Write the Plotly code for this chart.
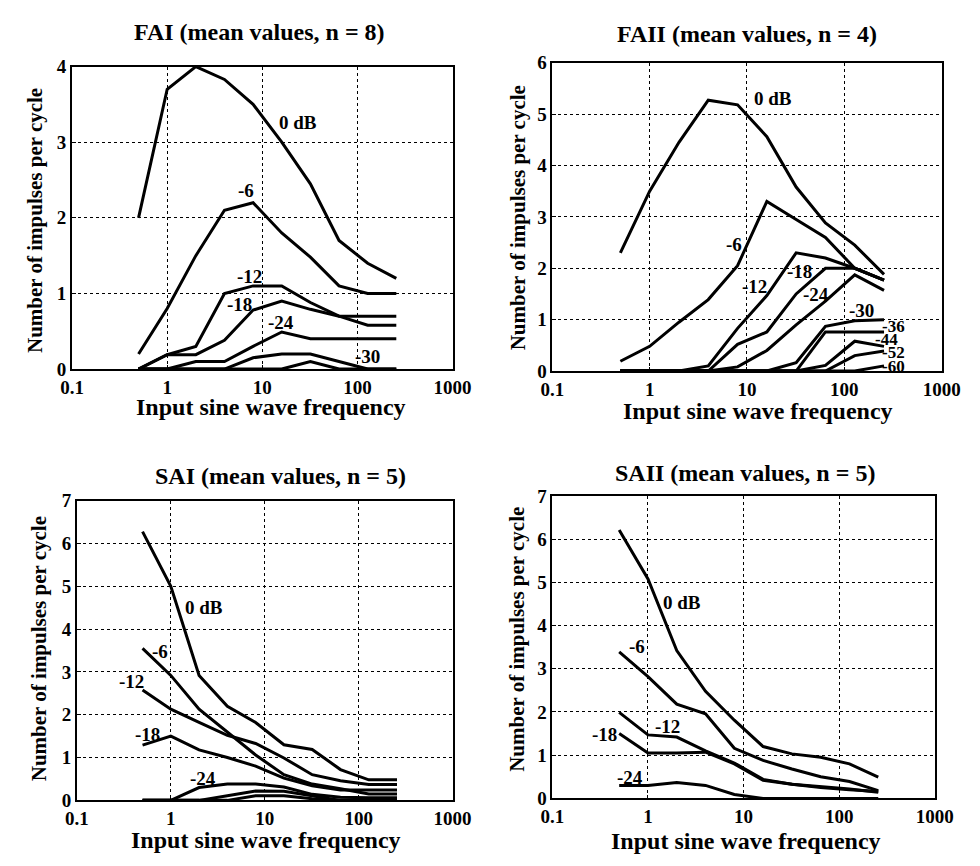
import math
import plotly.graph_objects as go

# Stimulus frequencies (Hz), one octave apart
freq = [0.5, 1, 2, 4, 8, 16, 32, 64, 128, 256]

x_tickvals = [0.1, 1, 10, 100, 1000]
x_ticktext = ["0.1", "1", "10", "100", "1000"]

# FAI afferents, impulses per cycle at each attenuation
fai_0 = [2.0, 3.7, 4.0, 3.83, 3.5, 3.0, 2.45, 1.7, 1.4, 1.2]
fai_6 = [0.2, 0.8, 1.5, 2.1, 2.2, 1.8, 1.48, 1.1, 1.0, 1.0]
fai_12 = [0, 0.19, 0.3, 1.0, 1.1, 1.1, 0.88, 0.7, 0.58, 0.58]
fai_18 = [0, 0.19, 0.19, 0.38, 0.78, 0.9, 0.79, 0.7, 0.7, 0.7]
fai_24 = [0, 0, 0.1, 0.1, 0.3, 0.49, 0.4, 0.4, 0.4, 0.4]
fai_30 = [0, 0, 0, 0, 0.15, 0.2, 0.2, 0.1, 0, 0]
fai_36 = [0, 0, 0, 0, 0, 0, 0.1, 0, 0, 0]

# FAII afferents
faii_0 = [2.3, 3.5, 4.45, 5.27, 5.18, 4.56, 3.58, 2.88, 2.45, 1.88]
faii_6 = [0.19, 0.48, 0.95, 1.39, 2.05, 3.3, 2.95, 2.6, 2.0, 1.77]
faii_12 = [0, 0, 0, 0.1, 0.83, 1.47, 2.3, 2.2, 2.0, 1.77]
faii_18 = [0, 0, 0, 0, 0.52, 0.76, 1.5, 2.0, 2.0, 1.77]
faii_24 = [0, 0, 0, 0, 0.08, 0.4, 0.9, 1.36, 1.87, 1.57]
faii_30 = [0, 0, 0, 0, 0, 0, 0.16, 0.87, 0.98, 1.0]
faii_36 = [0, 0, 0, 0, 0, 0, 0, 0.76, 0.76, 0.76]
faii_44 = [0, 0, 0, 0, 0, 0, 0, 0.11, 0.58, 0.48]
faii_52 = [0, 0, 0, 0, 0, 0, 0, 0, 0.3, 0.39]
faii_60 = [0, 0, 0, 0, 0, 0, 0, 0, 0, 0.1]

# SAI afferents
sai_0 = [6.28, 5.0, 2.92, 2.2, 1.82, 1.3, 1.19, 0.72, 0.48, 0.48]
sai_6 = [3.55, 2.92, 2.13, 1.59, 1.06, 0.6, 0.38, 0.27, 0.15, 0.15]
sai_12 = [2.58, 2.13, 1.82, 1.52, 1.33, 0.99, 0.6, 0.46, 0.37, 0.37]
sai_18 = [1.29, 1.5, 1.18, 1.0, 0.8, 0.52, 0.34, 0.24, 0.24, 0.24]
sai_24 = [0, 0, 0.3, 0.38, 0.38, 0.31, 0.14, 0.07, 0.06, 0.06]
sai_30 = [0, 0, 0, 0.11, 0.22, 0.21, 0.11, 0, 0, 0]
sai_36 = [0, 0, 0, 0, 0.11, 0.11, 0.04, 0, 0, 0]

# SAII afferents
saii_0 = [6.21, 5.08, 3.42, 2.48, 1.81, 1.2, 1.03, 0.95, 0.8, 0.49]
saii_6 = [3.39, 2.82, 2.18, 1.96, 1.16, 0.88, 0.68, 0.5, 0.39, 0.18]
saii_12 = [1.99, 1.47, 1.42, 1.1, 0.82, 0.44, 0.33, 0.27, 0.22, 0.14]
saii_18 = [1.5, 1.05, 1.05, 1.07, 0.8, 0.42, 0.33, 0.25, 0.2, 0.16]
saii_24 = [0.3, 0.3, 0.37, 0.3, 0.09, 0, 0, 0, 0, 0]

FONT = "Liberation Serif, Times New Roman, serif"

# Label tuples: text, frequency, value, font size
panels = [
    dict(title="FAI (mean values, n = 8)", ymax=4,
         series=[fai_0, fai_6, fai_12, fai_18, fai_24, fai_30, fai_36],
         labels=[("0 dB", 23.5, 3.26, 19), ("-6", 6.8, 2.36, 19), ("-12", 7.3, 1.22, 19),
                 ("-18", 5.8, 0.86, 19), ("-24", 15.9, 0.62, 19), ("-30", 126, 0.16, 19)],
         xd=[62, 455], yd=[58, 368], ttl=(256, 23), xt=(267, 407), yt=(24, 216)),
    dict(title="FAII (mean values, n = 4)", ymax=6,
         series=[faii_0, faii_6, faii_12, faii_18, faii_24, faii_30,
                 faii_36, faii_44, faii_52, faii_60],
         labels=[("0 dB", 18.5, 5.3, 19), ("-6", 7.3, 2.47, 19), ("-12", 12, 1.65, 19),
                 ("-18", 34.4, 1.94, 19), ("-24", 50.8, 1.48, 19), ("-30", 149, 1.18, 19),
                 ("-36", 318, 0.87, 17), ("-44", 272, 0.61, 17), ("-52", 318, 0.36, 17),
                 ("-60", 318, 0.08, 17)],
         xd=[558, 960], yd=[54, 370], ttl=(759, 25), xt=(770, 411), yt=(522, 213)),
    dict(title="SAI (mean values, n = 5)", ymax=7,
         series=[sai_0, sai_6, sai_12, sai_18, sai_24, sai_30, sai_36],
         labels=[("0 dB", 2.24, 4.51, 19), ("-6", 0.77, 3.47, 19), ("-12", 0.38, 2.78, 19),
                 ("-18", 0.56, 1.55, 19), ("-24", 2.19, 0.52, 19)],
         xd=[67, 455], yd=[503, 810], ttl=(277, 478), xt=(262, 851), yt=(28, 655)),
    dict(title="SAII (mean values, n = 5)", ymax=7,
         series=[saii_0, saii_6, saii_12, saii_18, saii_24],
         labels=[("0 dB", 2.27, 4.54, 19), ("-6", 0.76, 3.52, 19), ("-12", 1.6, 1.67, 19),
                 ("-18", 0.35, 1.47, 19), ("-24", 0.65, 0.49, 19)],
         xd=[558, 953], yd=[498, 808], ttl=(757, 475), xt=(758, 852), yt=(522, 645)),
]

W, H = 980, 866
fig = go.Figure()
annotations = []


def text_font(size):
    return dict(family=FONT, size=size, color="black", weight="bold")


for i, p in enumerate(panels, start=1):
    xa = "x" if i == 1 else f"x{i}"
    ya = "y" if i == 1 else f"y{i}"
    for s in p["series"]:
        fig.add_trace(go.Scatter(x=freq, y=s, mode="lines", xaxis=xa, yaxis=ya,
                                 line=dict(color="black", width=3),
                                 showlegend=False, hoverinfo="skip"))
    axis_common = dict(showgrid=True, gridcolor="black", griddash="dot", gridwidth=1,
                       showline=True, mirror=True, linecolor="black", linewidth=1.8,
                       ticks="inside", ticklen=4, tickcolor="black", zeroline=False,
                       tickfont=text_font(19))
    suffix = "" if i == 1 else str(i)
    fig.update_layout({
        f"xaxis{suffix}": dict(
            type="log", range=[-1, 3], tickvals=x_tickvals, ticktext=x_ticktext,
            ticklabelstandoff=0,
            domain=[p["xd"][0] / W, p["xd"][1] / W], anchor=ya, **axis_common),
        f"yaxis{suffix}": dict(
            range=[0, p["ymax"]], dtick=1,
            domain=[1 - p["yd"][1] / H, 1 - p["yd"][0] / H], anchor=xa, **axis_common),
    })
    for txt, lx, ly, fs in p["labels"]:
        annotations.append(dict(x=math.log10(lx), y=ly, xref=xa, yref=ya,
                                text=txt, showarrow=False, font=text_font(fs),
                                xanchor="center", yanchor="middle"))
    annotations.append(dict(x=p["ttl"][0] / W, y=1 - p["ttl"][1] / H, xref="paper", yref="paper",
                            text=p["title"], showarrow=False, font=text_font(24),
                            xanchor="center", yanchor="middle"))
    annotations.append(dict(x=p["xt"][0] / W, y=1 - p["xt"][1] / H, xref="paper", yref="paper",
                            text="Input sine wave frequency", showarrow=False, font=text_font(24),
                            xanchor="center", yanchor="middle"))
    annotations.append(dict(x=p["yt"][0] / W, y=1 - p["yt"][1] / H, xref="paper", yref="paper",
                            text="Number of impulses per cycle", showarrow=False, textangle=-90,
                            font=text_font(21), xanchor="center", yanchor="middle"))

fig.update_layout(width=W, height=H, margin=dict(l=0, r=0, t=0, b=0),
                  paper_bgcolor="white", plot_bgcolor="white",
                  annotations=annotations)

fig.write_html("out.html")
